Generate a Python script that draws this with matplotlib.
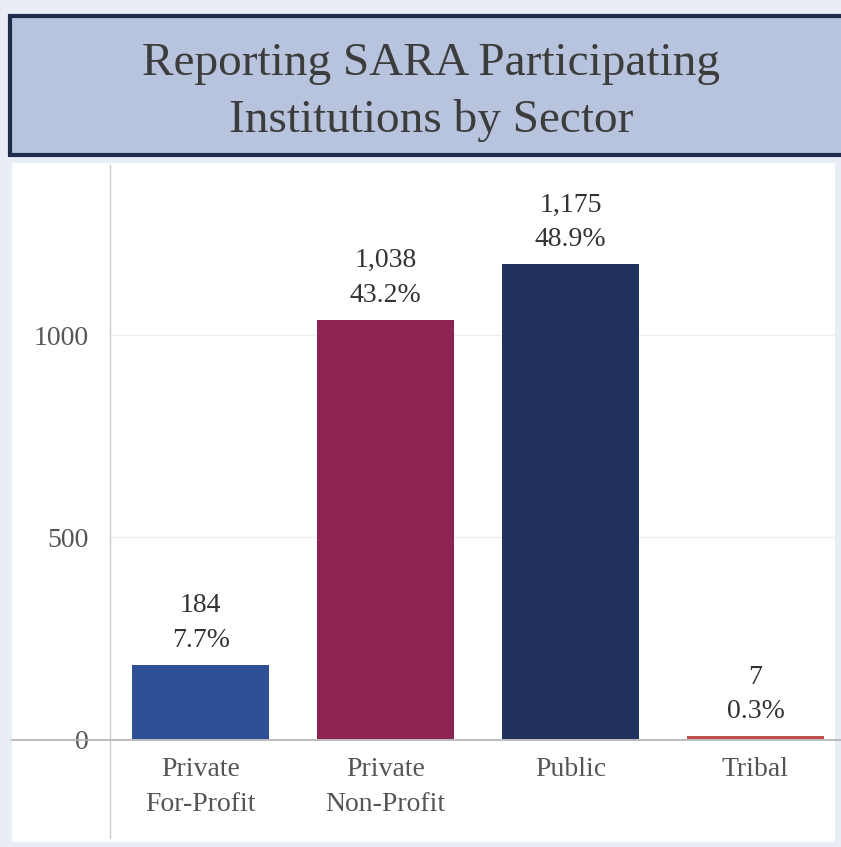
import numpy as np
import matplotlib.pyplot as plt
from matplotlib.patches import Rectangle
from matplotlib.lines import Line2D

#%% Data
sectors = ["Private\nFor-Profit", "Private\nNon-Profit", "Public", "Tribal"]
counts = [184, 1038, 1175, 7]
shares = ["7.7%", "43.2%", "48.9%", "0.3%"]
bar_colors = ["#2f4f96", "#8c2350", "#22325f", "#c0504d"]
yticks = [0, 500, 1000]

W, H = 841, 847
plt.rcParams['font.family'] = ['Liberation Serif', 'DejaVu Serif']

fig = plt.figure(figsize=(W / 100, H / 100), dpi=100)
fig.patch.set_facecolor("#e9eef6")

# white panel
fig.add_artist(Rectangle((12 / W, 1 - 842 / H), (835 - 12) / W, (842 - 163) / H,
                         transform=fig.transFigure, facecolor="white",
                         edgecolor="none", zorder=0))

# title box
fig.add_artist(Rectangle((10 / W, 1 - 155 / H), (845 - 10) / W, (155 - 16) / H,
                         transform=fig.transFigure, facecolor="#b8c4dd",
                         edgecolor="#1f2c4c", linewidth=3, zorder=1))
fig.text(431 / W, 1 - 92 / H, "Reporting SARA Participating\nInstitutions by Sector",
         ha="center", va="center", fontsize=34, color="#3c3c3c",
         linespacing=1.42)

ax = fig.add_axes([110 / W, 1 - 838 / H, (835 - 110) / W, (838 - 165) / H])
ax.set_facecolor("none")
x = np.arange(len(sectors))
ax.bar(x, counts, width=0.74, color=bar_colors, zorder=3)
ax.set_xlim(-0.49, 3.43)
ax.set_ylim(-245, 1421)

for sp in ["top", "right", "bottom"]:
    ax.spines[sp].set_visible(False)
ax.spines["left"].set_color("#cccccc")
ax.spines["left"].set_linewidth(1)

ax.set_yticks(yticks)
ax.set_yticklabels([str(v) for v in yticks], fontsize=20, color="#555555")
ax.tick_params(axis="y", length=0, pad=15)
ax.set_xticks([])
for v in yticks[1:]:
    ax.axhline(v, color="#eeeeee", lw=1, zorder=1)

# zero baseline extends to panel edge
fig.add_artist(Line2D([12 / W, 841 / W], [1 - 740 / H, 1 - 740 / H],
                      transform=fig.transFigure, color="#b0b0b0", lw=1.2, zorder=2))

for xi, c, s, lab in zip(x, counts, shares, sectors):
    ax.text(xi, c + 30, f"{c:,}\n{s}", ha="center", va="bottom",
            fontsize=20, color="#333333", linespacing=1.5)
    ax.text(xi, -45, lab, ha="center", va="top", fontsize=20,
            color="#555555", linespacing=1.5)

fig.savefig("out.png", dpi=100, facecolor=fig.get_facecolor())
